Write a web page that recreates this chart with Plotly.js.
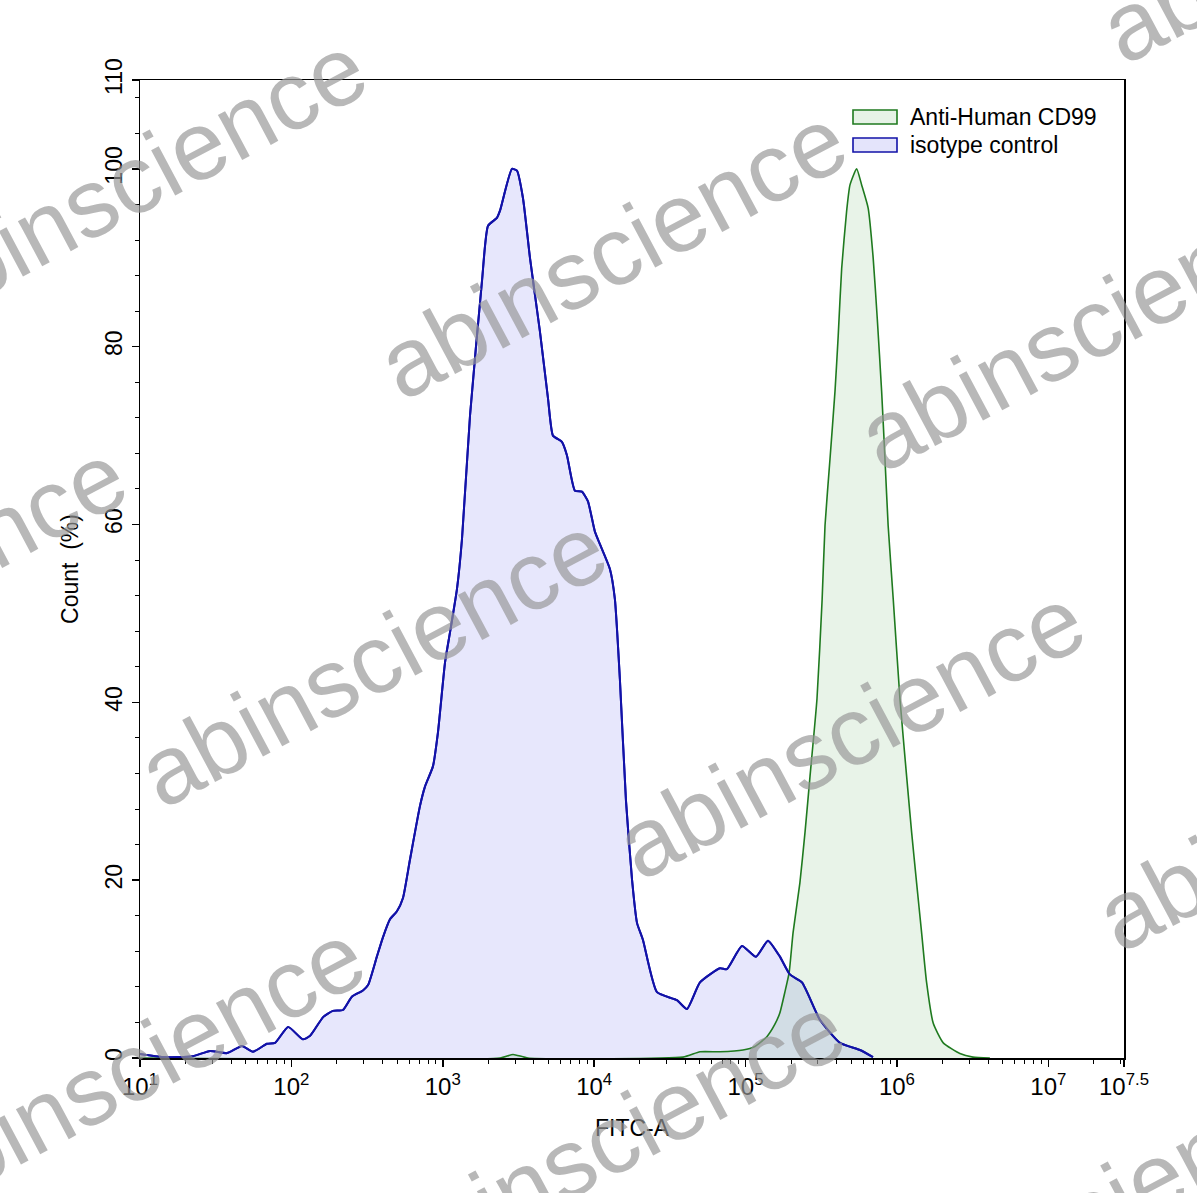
<!DOCTYPE html>
<html>
<head>
<meta charset="utf-8">
<script src="https://cdn.plot.ly/plotly-3.0.1.min.js"></script>
<style>
  html, body { margin: 0; padding: 0; background: #ffffff; }
  #chart { width: 1197px; height: 1193px; }
</style>
</head>
<body>
<div id="chart"></div>
<script>
// ---- Data (FITC-A intensity vs Count %) ----
const isotypeX = [10, 14.2, 22.4, 29.0, 37.6, 47.2, 55.7, 69.0, 78.0, 95.1,
  119, 133, 162, 188, 219, 251, 297, 321, 367, 403,
  448, 498, 546, 607, 706, 762, 861, 929, 1035, 1117,
  1242, 1340, 1514, 1816, 1991, 2280, 2388, 2864, 3090, 3388,
  3767, 4385, 4955, 5346, 6124, 6607, 7464, 8299, 9099, 10116,
  10914, 12706, 13709, 14791, 16218, 17783, 19187, 20989, 26002, 35237,
  41020, 50003, 67764, 75336, 94624, 117220, 140605, 168655, 196336, 236048,
  309742, 420727, 570164, 695024];
const isotypeY = [0.45, 0.1, 0.2, 0.8, 0.55, 1.35, 0.7, 1.6, 1.7, 3.5,
  2.1, 2.5, 4.6, 5.3, 5.4, 6.9, 7.6, 8.2, 11.4, 13.6,
  15.6, 16.5, 18, 22.3, 28.3, 30.5, 32.8, 36.6, 44.5, 47.9,
  52.8, 58.4, 72.3, 87.4, 93.6, 94.5, 95.3, 100, 99.8, 96.7,
  90, 81.7, 74.2, 70, 69.3, 67.8, 63.8, 63.7, 62.6, 59.2,
  57.8, 55, 51.6, 42.6, 29, 20.1, 15.2, 13.3, 7.4, 6.5,
  5.5, 8.5, 10.1, 10, 12.6, 11.4, 13.2, 11.4, 9.4, 8.5,
  4.3, 1.7, 0.9, 0.1];

const cd99X = [10, 2388, 2911, 3656, 38637, 50003, 67764, 96170, 115345, 138357,
  156315, 168655, 182389, 194089, 206063, 228560, 247172, 266686, 296483, 320627,
  334965, 361410, 389942, 409574, 431519, 465586, 489779, 542001, 584790, 645654,
  696626, 741310, 792464, 833681, 874984, 945484, 1047129, 1158777, 1250259, 1348963,
  1455498, 1570363, 1737801, 2023019, 2606154, 3176874, 4111497];
const cd99Y = [0, 0, 0.4, 0, 0.1, 0.7, 0.7, 0.9, 1.3, 2.4,
  3.8, 5.1, 7.5, 9.6, 14.1, 19.7, 25.4, 31.7, 40.4, 51.6,
  59.9, 67.4, 75, 81.3, 88.8, 95.3, 98.2, 100, 98.2, 95.6,
  90, 83.2, 75, 67.4, 59.9, 51.6, 40.4, 31.7, 25.4, 19.7,
  14.1, 8.5, 3.9, 1.7, 0.5, 0.1, 0];

const seriesNames = ["Anti-Human CD99", "isotype control"];
const xTickVals = [10, 100, 1000, 10000, 100000, 1000000, 10000000, 31622777];
const xTickText = ["10<sup>1</sup>", "10<sup>2</sup>", "10<sup>3</sup>", "10<sup>4</sup>",
  "10<sup>5</sup>", "10<sup>6</sup>", "10<sup>7</sup>", "10<sup>7.5</sup>"];
const yTickVals = [0, 20, 40, 60, 80, 100, 110];
const yTickText = ["0", "20", "40", "60", "80", "100", "110"];

// log minor ticks (2..9 per decade)
const xMinor = [];
for (let k = 1; k <= 7; k++) {
  for (let d = 2; d <= 9; d++) {
    const v = d * Math.pow(10, k);
    if (v < 31622777) xMinor.push(v);
  }
}

const FONT = "Liberation Sans, Arial, sans-serif";
const blueLine = "#1212a8";
const greenLine = "#1f7a1f";
const blueFill = "rgba(40,40,230,0.11)";
const greenFill = "rgba(30,140,30,0.10)";

const traces = [
  {
    x: isotypeX, y: isotypeY, name: seriesNames[1], type: "scatter", mode: "lines",
    fill: "tozeroy", fillcolor: blueFill, showlegend: false,
    line: { color: blueLine, width: 2, shape: "spline", smoothing: 0.5 }
  },
  {
    x: cd99X, y: cd99Y, name: seriesNames[0], type: "scatter", mode: "lines",
    fill: "tozeroy", fillcolor: greenFill, showlegend: false,
    line: { color: greenLine, width: 1.6, shape: "spline", smoothing: 0.5 }
  },
  {
    x: isotypeX, y: isotypeY, type: "scatter", mode: "lines", showlegend: false,
    line: { color: blueLine, width: 2, shape: "spline", smoothing: 0.5 },
    hoverinfo: "skip"
  }
];

// pixel -> paper helpers (plot area 140..1124 x 80..1058)
const px = v => (v - 140) / 984;
const py = v => (1058 - v) / 978;

function wm(cx, cy) {
  return {
    xref: "paper", yref: "paper",
    x: px(cx), y: py(cy),
    text: "abinscience", textangle: -28, showarrow: false,
    xanchor: "center", yanchor: "middle",
    font: { family: FONT, size: 97, color: "rgba(150,150,150,0.68)" }
  };
}
const wmCenters = [[612,252],[372,660],[850,732],[1092,324],[132,180],[-108,588],
  [130,1068],[610,1140],[1330,804],[1334,-84],[1090,1212]];

// custom legend (boxes + labels)
const legendItems = [
  { name: seriesNames[0], line: greenLine, fill: "#e6f2e6", y: 117 },
  { name: seriesNames[1], line: blueLine, fill: "#e4e4fb", y: 145 }
];
const legendShapes = legendItems.map(it => ({
  type: "rect", xref: "paper", yref: "paper",
  x0: px(853), x1: px(897), y0: py(it.y + 7), y1: py(it.y - 7),
  line: { color: it.line, width: 1.6 }, fillcolor: it.fill
}));
const legendTexts = legendItems.map(it => ({
  xref: "paper", yref: "paper", x: px(908), y: py(it.y),
  xanchor: "left", yanchor: "middle", showarrow: false,
  text: it.name, font: { family: FONT, size: 23, color: "#000" }
}));

const layout = {
  width: 1197, height: 1193,
  margin: { l: 140, r: 73, t: 80, b: 135 },
  paper_bgcolor: "#ffffff", plot_bgcolor: "#ffffff",
  font: { family: FONT, size: 20, color: "#000000" },
  showlegend: false,
  xaxis: {
    type: "log", range: [1, 7.5],
    tickmode: "array", tickvals: xTickVals, ticktext: xTickText,
    ticks: "outside", ticklen: 7, tickwidth: 1.5, tickcolor: "#000",
    showline: true, linecolor: "#000", linewidth: 1.5, mirror: true,
    showgrid: false, zeroline: false,
    tickfont: { family: FONT, size: 24, color: "#000" },
    minor: { tickmode: "array", tickvals: xMinor, ticks: "outside", ticklen: 4, tickwidth: 1, tickcolor: "#000", showgrid: false },
    title: { text: "FITC-A", font: { family: FONT, size: 23, color: "#000" }, standoff: 20 }
  },
  yaxis: {
    range: [0, 110],
    tickmode: "array", tickvals: yTickVals, ticktext: yTickText,
    tickangle: -90,
    ticks: "outside", ticklen: 7, tickwidth: 1.5, tickcolor: "#000",
    showline: true, linecolor: "#000", linewidth: 1.5, mirror: true,
    showgrid: false, zeroline: false,
    tickfont: { family: FONT, size: 23, color: "#000" },
    minor: { tick0: 0, dtick: 4, ticks: "outside", ticklen: 4, tickwidth: 1, tickcolor: "#000", showgrid: false },
    title: { text: "Count  (%)", font: { family: FONT, size: 23, color: "#000" }, standoff: 16 }
  },
  shapes: legendShapes,
  annotations: legendTexts.concat(wmCenters.map(c => wm(c[0], c[1])))
};

Plotly.newPlot("chart", traces, layout, { displayModeBar: false, staticPlot: true });
</script>
</body>
</html>
